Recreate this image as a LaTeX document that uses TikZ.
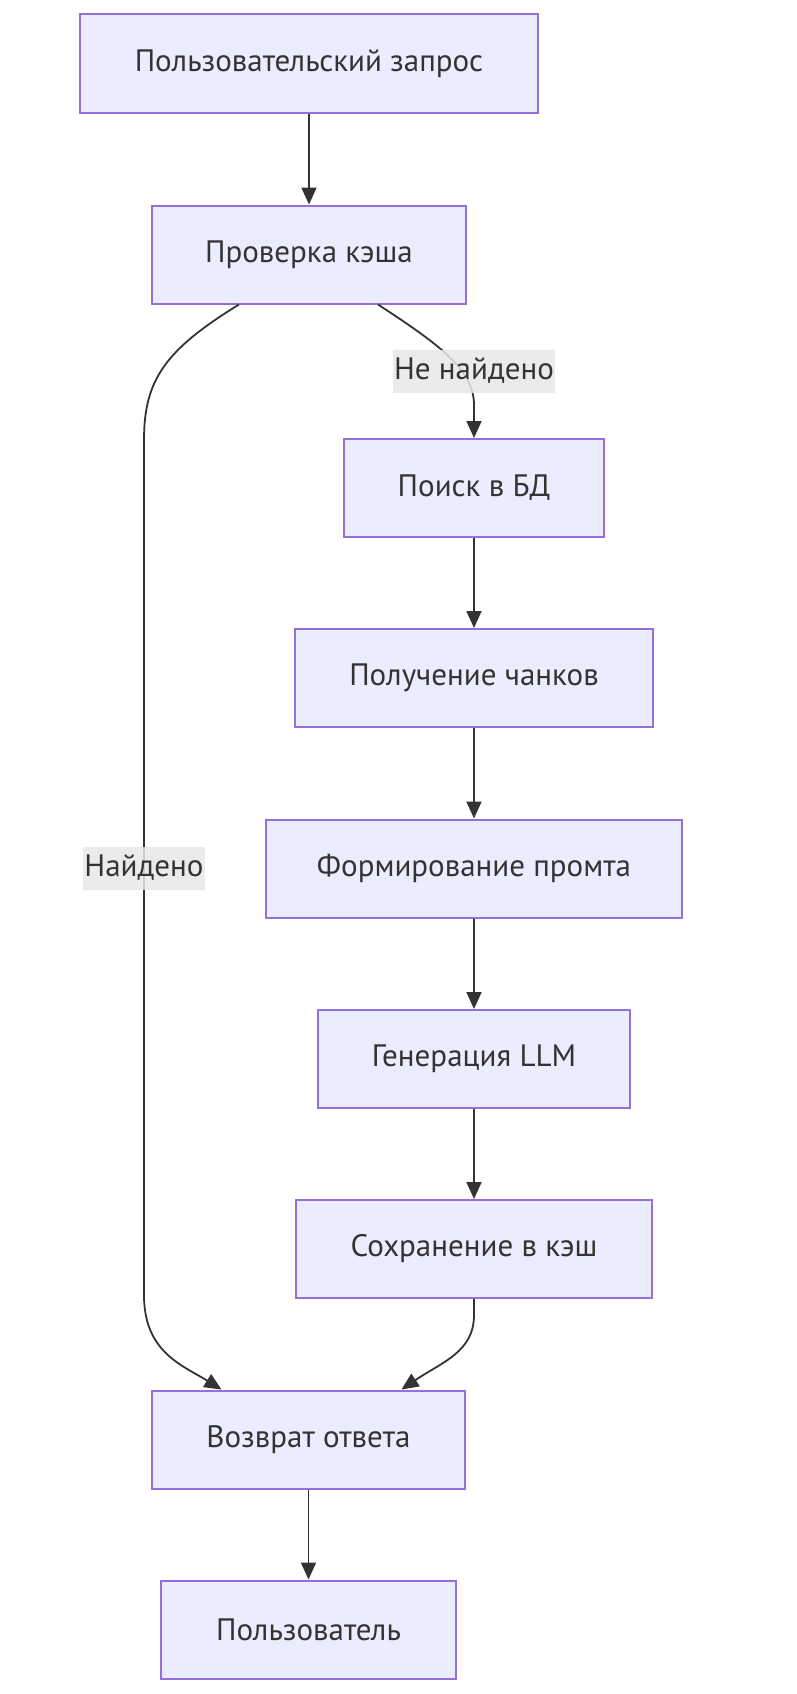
\documentclass[tikz,border=0pt]{standalone}
\usepackage{fontspec}
\setmainfont{PT Sans}
\usetikzlibrary{arrows.meta}
\definecolor{boxfill}{HTML}{ECECFF}
\definecolor{boxline}{HTML}{9370DB}
\definecolor{edgeline}{HTML}{333333}
\definecolor{lblfill}{HTML}{E8E8E8}

\begin{document}
\begin{tikzpicture}[x=1pt,y=-1pt,
  box/.style={draw=boxline,fill=boxfill,line width=2pt,minimum height=98pt,text=edgeline,font=\fontsize{31}{36}\selectfont},
  arr/.style={draw=edgeline,line width=1.8pt,-{Triangle[length=17pt,width=15pt]}},
  lbl/.style={fill=lblfill,fill opacity=0.85,text opacity=1,text=edgeline,inner xsep=1pt,inner ysep=3pt,minimum height=43pt,font=\fontsize{31}{36}\selectfont}]
\useasboundingbox (0,0) rectangle (797,1694);
%\draw[help lines] (0,0) grid (797,1694);
\node[box,minimum width=458pt] (zapros) at (309,63.5) {Пользовательский запрос};
\node[box,minimum width=314pt] (kesh) at (309,254.5) {Проверка кэша};
\node[box,minimum width=260pt] (poisk) at (474,488) {Поиск в БД};
\node[box,minimum width=358pt] (chanki) at (474,678) {Получение чанков};
\node[box,minimum width=416pt] (promt) at (474,868.5) {Формирование промта};
\node[box,minimum width=312pt] (llm) at (474,1059) {Генерация LLM};
\node[box,minimum width=356pt] (sohr) at (474,1249) {Сохранение в кэш};
\node[box,minimum width=313pt] (otvet) at (308.5,1439.5) {Возврат ответа};
\node[box,minimum width=295pt] (polz) at (308.5,1629.5) {Пользователь};
\draw[arr] (zapros) -- (kesh);
\draw[arr] ([xshift=-70pt]kesh.south) .. controls (165,350) and (144,380) .. (144,440)
  -- (144,1295) .. controls (144,1352) and (182,1365) .. ([xshift=-87pt]otvet.north);
\draw[arr] ([xshift=69pt]kesh.south) .. controls (440,345) and (474,370) .. (474,405) -- (poisk);
\draw[arr] (poisk) -- (chanki);
\draw[arr] (chanki) -- (promt);
\draw[arr] (promt) -- (llm);
\draw[arr] (llm) -- (sohr);
\draw[arr] (sohr.south) -- (474,1315) .. controls (474,1352) and (442,1362) .. ([xshift=93pt]otvet.north);
\draw[arr] (otvet) -- (polz);
\node[lbl] (nenaid) at (474,371) {Не найдено};
\node[lbl] (naid) at (144,868) {Найдено};
\end{tikzpicture}
\end{document}
